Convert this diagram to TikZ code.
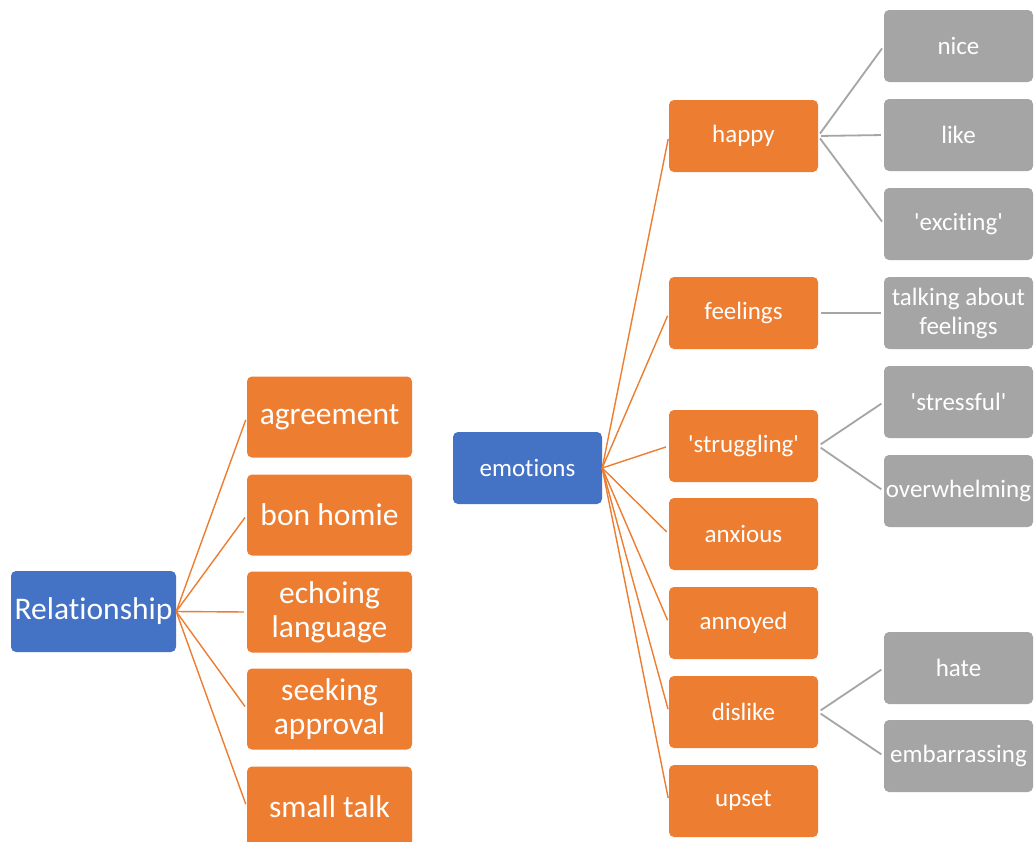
\documentclass[tikz,border=0pt]{standalone}
\usepackage{fontspec}
\setmainfont{Carlito}[Ligatures={NoCommon}]
\definecolor{mapblue}{HTML}{4472C4}
\definecolor{maporange}{HTML}{ED7D31}
\definecolor{mapgray}{HTML}{A5A5A5}
\begin{document}
\begin{tikzpicture}[
    x=1pt, y=-1pt,
    box/.style={rounded corners=5pt, text=white, align=center, inner sep=0pt},
    bigbox/.style={box, minimum width=165pt, minimum height=81pt, font=\fontsize{31.5}{34}\selectfont},
    smallbox/.style={box, minimum width=149pt, minimum height=72pt, font=\fontsize{25}{29}\selectfont},
    orangeline/.style={maporange, line width=1.4pt, shorten >=3pt},
    grayline/.style={mapgray, line width=1.8pt, shorten <=3pt, shorten >=3pt}
]
    \clip (0,0) rectangle (1035,841);
    \fill[white] (0,0) rectangle (1035,841);

    % --- Relationship (left) ---
    \node[bigbox, fill=mapblue] (rel) at (93.5,611.5) {Relationship};
    \node[bigbox, fill=maporange] (agr) at (329.5,417) {agreement};
    \node[bigbox, fill=maporange] (bon) at (329.5,515) {bon homie};
    \node[bigbox, fill=maporange] (ech) at (329.5,612) {echoing\\language};
    \node[bigbox, fill=maporange] (see) at (329.5,709) {seeking\\approval};
    \node[bigbox, fill=maporange] (sma) at (329.5,807) {small talk};
    \draw[orangeline] (rel.east) -- (agr.west);
    \draw[orangeline] (rel.east) -- (bon.west);
    \draw[orangeline] (rel.east) -- (ech.west);
    \draw[orangeline] (rel.east) -- (see.west);
    \draw[orangeline] (rel.east) -- (sma.west);

    % --- emotions (middle) ---
    \node[smallbox, fill=mapblue] (emo) at (527.5,468) {emotions};
    \node[smallbox, fill=maporange] (hap) at (743.5,136) {happy};
    \node[smallbox, fill=maporange] (fee) at (743.5,313) {feelings};
    \node[smallbox, fill=maporange] (str) at (743.5,446) {\textquotesingle struggling\textquotesingle};
    \node[smallbox, fill=maporange] (anx) at (743.5,534) {anxious};
    \node[smallbox, fill=maporange] (ann) at (743.5,623) {annoyed};
    \node[smallbox, fill=maporange] (dis) at (743.5,712) {dislike};
    \node[smallbox, fill=maporange] (ups) at (743.5,801) {upset};
    \draw[orangeline] (emo.east) -- (hap.west);
    \draw[orangeline] (emo.east) -- (fee.west);
    \draw[orangeline] (emo.east) -- (str.west);
    \draw[orangeline] (emo.east) -- (anx.west);
    \draw[orangeline] (emo.east) -- (ann.west);
    \draw[orangeline] (emo.east) -- (dis.west);
    \draw[orangeline] (emo.east) -- (ups.west);

    % --- third level (right) ---
    \node[smallbox, fill=mapgray] (nic) at (958.5,46) {nice};
    \node[smallbox, fill=mapgray] (lik) at (958.5,135) {like};
    \node[smallbox, fill=mapgray] (exc) at (958.5,224) {\textquotesingle exciting\textquotesingle};
    \node[smallbox, fill=mapgray] (tal) at (958.5,313) {talking about\\feelings};
    \node[smallbox, fill=mapgray] (stf) at (958.5,402) {\textquotesingle stressful\textquotesingle};
    \node[smallbox, fill=mapgray] (ove) at (958.5,491) {overwhelming};
    \node[smallbox, fill=mapgray] (hat) at (958.5,668) {hate};
    \node[smallbox, fill=mapgray] (emb) at (958.5,756) {embarrassing};
    \draw[grayline] (hap.east) -- (nic.west);
    \draw[grayline] (hap.east) -- (lik.west);
    \draw[grayline] (hap.east) -- (exc.west);
    \draw[grayline] (fee.east) -- (tal.west);
    \draw[grayline] (str.east) -- (stf.west);
    \draw[grayline] (str.east) -- (ove.west);
    \draw[grayline] (dis.east) -- (hat.west);
    \draw[grayline] (dis.east) -- (emb.west);
\end{tikzpicture}
\end{document}
